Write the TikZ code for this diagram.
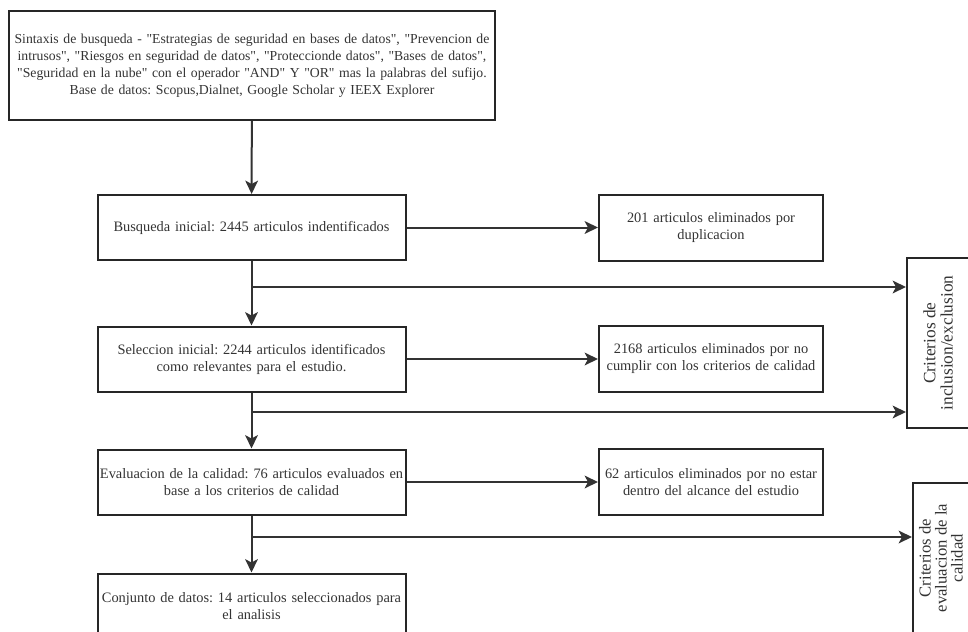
\documentclass[tikz,border=0pt]{standalone}
\usepackage{fontspec}
\setmainfont{Liberation Serif}[Ligatures=TeXOff]
\usetikzlibrary{arrows.meta}
\frenchspacing

\begin{document}
\begin{tikzpicture}[x=0.75pt, y=-0.75pt,
    box/.style={draw=black!85, line width=1.5pt, align=center, text=black!80,
      font=\fontsize{10.8}{12.75}\selectfont, inner xsep=0pt},
    mainbox/.style={box, minimum width=231pt, minimum height=48.75pt, text width=231pt},
    outbox/.style={box, minimum width=168pt, minimum height=49.5pt, text width=166pt},
    sidebox/.style={box, rotate=90, font=\fontsize{13}{13}\selectfont},
    flow/.style={-{Stealth[length=10pt, width=9.5pt, inset=2.5pt]}, draw=black!80, line width=1.5pt}]
  \useasboundingbox (0,0) rectangle (968,632);
  \clip (0,0) rectangle (968,632);

  % Search box
  \node[box, minimum width=364.5pt, minimum height=81.75pt, text width=364pt,
        font=\fontsize{10.3}{12.75}\selectfont] (busqueda) at (252,65.5)
    {Sintaxis de busqueda - "Estrategias de seguridad en bases de datos", "Prevencion de\\
     intrusos", "Riesgos en seguridad de datos", "Proteccionde datos", "Bases de datos",\\
     "Seguridad en la nube" con el operador "AND" Y "OR" mas la palabras del sufijo.\\
     Base de datos: Scopus,Dialnet, Google Scholar y IEEX Explorer};

  % Main flow
  \node[mainbox] (inicial) at (251.5,227.5) {Busqueda inicial: 2445 articulos indentificados};
  \node[mainbox] (seleccion) at (251.5,359) {Seleccion inicial: 2244 articulos identificados\\como relevantes para el estudio.};
  \node[mainbox] (evaluacion) at (251.5,482) {\mbox{Evaluacion de la calidad: 76 articulos evaluados en}\\base a los criterios de calidad};
  \node[mainbox] (conjunto) at (251.5,606) {Conjunto de datos: 14 articulos seleccionados para\\el analisis};

  % Removed articles
  \node[outbox] (duplicados) at (711,227.5) {201 articulos eliminados por\\duplicacion};
  \node[outbox] (nocalidad) at (711,359) {2168 articulos eliminados por no\\cumplir con los criterios de calidad};
  \node[outbox] (noalcance) at (711,482) {62 articulos eliminados por no estar\\dentro del alcance del estudio};

  % Criteria
  \node[sidebox, minimum width=127.5pt, minimum height=46.5pt] (inclusion) at (938,343) {Criterios de\\inclusion/exclusion};
  \node[sidebox, minimum width=112.5pt, minimum height=42pt, anchor=north,
        font=\fontsize{12.5}{12}\selectfont] (criterioscal) at (912,558) {Criterios de\\evaluacion de la\\calidad};

  \coordinate (j1) at (251.5,287);
  \coordinate (j2) at (251.5,412);
  \coordinate (j3) at (251.5,537);

  \draw[flow] (busqueda) -- (inicial);
  \draw[flow] (inicial) -- (seleccion);
  \draw[flow] (seleccion) -- (evaluacion);
  \draw[flow] (evaluacion) -- (conjunto);

  \draw[flow] (inicial) -- (duplicados);
  \draw[flow] (seleccion) -- (nocalidad);
  \draw[flow] (evaluacion) -- (noalcance);

  \draw[flow] (j1) -- (j1 -| inclusion.north);
  \draw[flow] (j2) -- (j2 -| inclusion.north);
  \draw[flow] (j3) -- (j3 -| criterioscal.north);
\end{tikzpicture}
\end{document}
